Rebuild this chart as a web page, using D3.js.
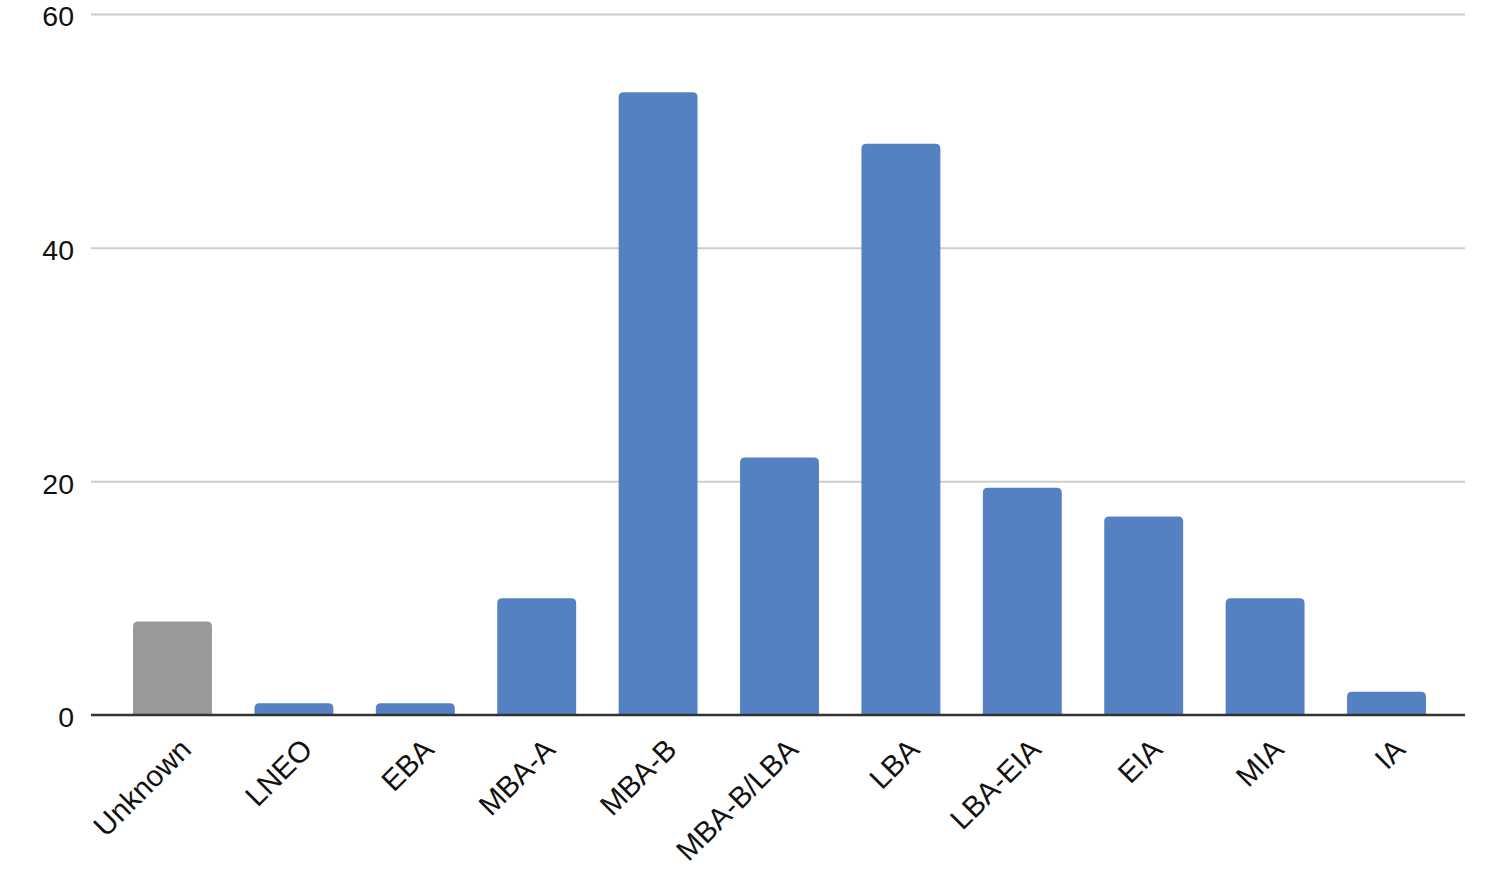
<!DOCTYPE html>
<html>
<head>
<meta charset="utf-8">
<script src="https://cdn.jsdelivr.net/npm/d3@7"></script>
<style>
  html, body { margin: 0; padding: 0; background: #fff; }
  svg { display: block; }
  text { font-family: "Liberation Sans", Arial, sans-serif; }
</style>
</head>
<body>
<svg id="chart" width="1498" height="884"></svg>
<script>
const categories = ["Unknown", "LNEO", "EBA", "MBA-A", "MBA-B", "MBA-B/LBA", "LBA", "LBA-EIA", "EIA", "MIA", "IA"];
const values = [8, 1, 1, 10, 53.3, 22.05, 48.9, 19.45, 17, 10, 2];
const barColors = ["#999999", "#5580c1", "#5580c1", "#5580c1", "#5580c1", "#5580c1", "#5580c1", "#5580c1", "#5580c1", "#5580c1", "#5580c1"];
const yTicks = [0, 20, 40, 60];

const svg = d3.select("#chart");
const gridLeft = 91, gridRight = 1465;
const y = d3.scaleLinear().domain([0, 60]).range([715, 14]);
const x = d3.scaleBand().domain(categories).range([111.8, 1447.2]).paddingInner(0.35).paddingOuter(0.175);

const yAxis = d3.axisLeft(y).tickValues(yTicks).tickSize(-(gridRight - gridLeft)).tickPadding(17).tickFormat(d3.format("d"));
const gy = svg.append("g").attr("transform", `translate(${gridLeft},0)`).call(yAxis);
gy.select(".domain").remove();
gy.selectAll(".tick line").attr("stroke", "#cccccc").attr("stroke-width", 2);
gy.selectAll(".tick text").attr("font-size", 28.5).attr("fill", "#111").attr("dy", "0.41em");
gy.selectAll(".tick").filter(d => d === 0).select("line").attr("stroke", "none");

function barPath(x0, w, yTop, yBase, r) {
  const h = yBase - yTop;
  const rr = Math.min(r, h / 2, w / 2);
  return `M${x0},${yBase} V${yTop + rr} Q${x0},${yTop} ${x0 + rr},${yTop} H${x0 + w - rr} Q${x0 + w},${yTop} ${x0 + w},${yTop + rr} V${yBase} Z`;
}
svg.append("g").selectAll("path").data(categories).join("path")
  .attr("d", (c, i) => barPath(x(c), x.bandwidth(), y(values[i]), y(0), 5))
  .attr("fill", (c, i) => barColors[i]);

svg.append("line").attr("x1", gridLeft).attr("x2", gridRight).attr("y1", y(0)).attr("y2", y(0))
  .attr("stroke", "#333333").attr("stroke-width", 2.5);

const xAxis = d3.axisBottom(x).tickSize(0).tickPadding(0);
const gx = svg.append("g").attr("transform", `translate(0,${y(0)})`).call(xAxis);
gx.select(".domain").remove();
gx.selectAll(".tick text")
  .attr("font-size", 29.5).attr("fill", "#111")
  .attr("text-anchor", "end")
  .attr("dy", "0.35em").attr("y", 0)
  .attr("transform", "translate(13,29) rotate(-45)");
</script>
</body>
</html>
